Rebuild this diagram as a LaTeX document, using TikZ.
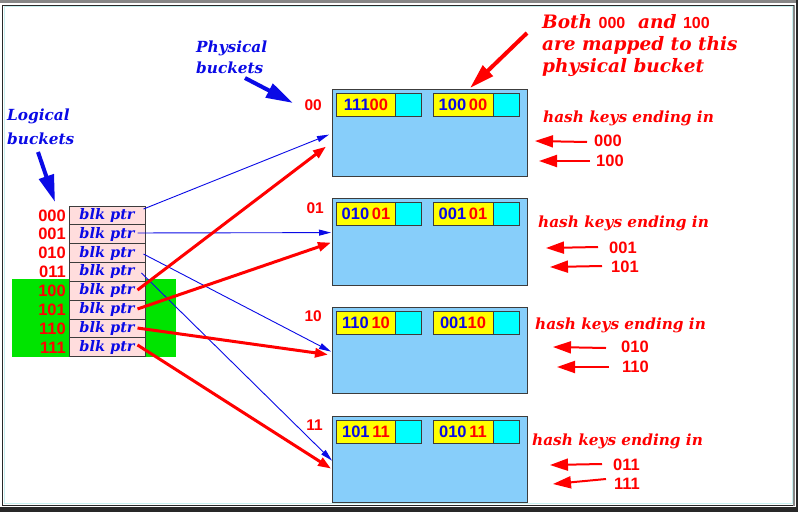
\documentclass[tikz,border=0pt]{standalone}
\usepackage{fontspec}
\setmainfont{DejaVu Serif}
\newfontfamily\serifbi{DejaVu Serif}
\newfontfamily\numf{Liberation Sans}
\usetikzlibrary{arrows.meta,calc}
\definecolor{myred}{RGB}{255,0,0}
\definecolor{myblue}{RGB}{10,10,230}
\definecolor{pinkcell}{RGB}{255,221,221}
\definecolor{boxblue}{RGB}{135,206,250}
\definecolor{recyellow}{RGB}{255,255,0}
\definecolor{reccyan}{RGB}{0,255,255}
\definecolor{mygreen}{RGB}{0,228,0}
\definecolor{edgegray}{RGB}{60,60,60}
\definecolor{framegray}{RGB}{135,135,135}
\definecolor{framedark}{RGB}{40,40,40}
\definecolor{framecyan}{RGB}{200,240,240}
\tikzset{
  lbl/.style={font=\serifbi\bfseries\itshape\fontsize{15.3}{21}\selectfont, inner sep=0pt},
  bignum/.style={font=\numf\bfseries\fontsize{16.5}{18}\selectfont, text=myred, inner sep=0pt},
  cellbox/.style={draw=edgegray, line width=1, fill=pinkcell, minimum width=76, minimum height=18.85, inner sep=0pt,
    font=\serifbi\bfseries\itshape\fontsize{14.5}{16}\selectfont, text=myblue},
  pbox/.style={draw=edgegray, line width=1.2, fill=boxblue, minimum width=195, inner sep=0pt},
  yrec/.style={draw=edgegray, line width=1, fill=recyellow, minimum width=60, minimum height=23, inner sep=0pt,
    font=\numf\bfseries\fontsize{16.5}{18}\selectfont},
  crec/.style={draw=edgegray, line width=1, fill=reccyan, minimum width=25.5, minimum height=23, inner sep=0pt},
  blueptr/.style={draw=myblue, line width=0.9, -{Triangle[length=12,width=6]}},
  redptr/.style={draw=myred, line width=3, -{Triangle[length=13,width=9]}},
  keyarrow/.style={draw=myred, line width=2, -{Triangle[length=18,width=12]}},
  bigarrow/.style={line width=4, -{Triangle[length=27,width=15]}},
}
\newcommand{\bl}[1]{\textcolor{myblue}{#1}}
\newcommand{\rd}[1]{\textcolor{myred}{#1}}
\newcommand{\upnum}[1]{{\numf\upshape\bfseries\fontsize{16}{18}\selectfont #1}}
\begin{document}
\begin{tikzpicture}[x=1pt,y=-1pt]
\useasboundingbox (0,0) rectangle (798,512);
\fill[white] (0,0) rectangle (798,512);
% frame
\fill[framegray] (0,0) rectangle (798,3);
\fill[framedark] (0,507) rectangle (798,512);
\fill[framedark] (796,0) rectangle (798,512);
\draw[framecyan, line width=1] (4,6.5) rectangle (792,503);
\draw[framedark, line width=1.3] (2.5,5) -- (2.5,505.5) -- (794,505.5);
\draw[framegray, line width=1.5] (794,5) -- (794,505.5);
\draw[framedark, line width=1] (2.5,5) -- (794,5);

% green highlight
\fill[mygreen] (12,279) rectangle (176,357);

% logical table
\foreach \i/\lab in {0/000,1/001,2/010,3/011,4/100,5/101,6/110,7/111}{
  \node[cellbox] (c\i) at (107,{206+(\i+0.5)*18.85}) {blk ptr};
  \node[bignum, anchor=east] (l\i) at (66,{206+(\i+0.5)*18.85}) {\lab};
}

% labels
\node[lbl, text=myblue, align=left, anchor=base west, font=\serifbi\bfseries\itshape\fontsize{15.3}{24}\selectfont] (logical) at (7,144) {Logical\\buckets};
\coordinate (logtip) at (55,202);
\draw[bigarrow, myblue] (38,152) -- (logtip);

\node[lbl, text=myblue, align=left, anchor=base west] (physical) at (196,73) {Physical\\buckets};
\coordinate (phystip) at (293,103);
\draw[bigarrow, myblue] (245,78) -- (phystip);

% physical buckets
\node[pbox, minimum height=87, anchor=north west] (b1) at (332,89) {};
\node[pbox, minimum height=87, anchor=north west] (b2) at (332,198) {};
\node[pbox, minimum height=86, anchor=north west] (b3) at (332,307) {};
\node[pbox, minimum height=86, anchor=north west] (b4) at (332,416) {};

\node[bignum, anchor=east, font=\numf\bfseries\fontsize{15.5}{18}\selectfont] (n1) at (322,105) {00};
\node[bignum, anchor=east, font=\numf\bfseries\fontsize{15.5}{18}\selectfont] (n2) at (324,208) {01};
\node[bignum, anchor=east, font=\numf\bfseries\fontsize{15.5}{18}\selectfont] (n3) at (322,316) {10};
\node[bignum, anchor=east, font=\numf\bfseries\fontsize{15.5}{18}\selectfont] (n4) at (323,425) {11};

% records
\foreach \k/\t/\ta/\tb in {1/93/\bl{111}\rd{00}/\bl{100}\,\rd{00},2/202/\bl{010}\,\rd{01}/\bl{001}\,\rd{01},3/311/\bl{110}\,\rd{10}/\bl{001}\rd{10},4/420/\bl{101}\,\rd{11}/\bl{010}\,\rd{11}}{
  \node[yrec] (ya\k) at (366,\t+11.5) {\ta};
  \node[crec] (ca\k) at (408.5,\t+11.5) {};
  \node[yrec] (yb\k) at (463,\t+11.5) {\tb};
  \node[crec, minimum width=26] (cb\k) at (506,\t+11.5) {};
}

% pointers
\draw[blueptr] ([xshift=-2pt,yshift=6.4pt]c0.east) -- ([xshift=-3pt,yshift=-1.5pt]b1.west);
\draw[blueptr] ([xshift=-8pt,yshift=1.3pt]c1.east) -- ([xshift=-1pt,yshift=9.5pt]b2.west);
\draw[blueptr] ([xshift=-2pt,yshift=-0.9pt]c2.east) -- ([xshift=-1pt,yshift=-1pt]b3.west);
\draw[blueptr] ([xshift=-4pt,yshift=-1pt]c3.east) -- ([xshift=0pt,yshift=-1pt]b4.west);
\draw[redptr] ([xshift=-8pt,yshift=0.8pt]c4.east) -- ([xshift=-6pt,yshift=-13.5pt]b1.west);
\draw[redptr] ([xshift=-8pt,yshift=0.7pt]c5.east) -- ([xshift=-1pt,yshift=-0.5pt]b2.west);
\draw[redptr] ([xshift=-8pt,yshift=0.5pt]c6.east) -- ([xshift=-4pt,yshift=-4pt]b3.west);
\draw[redptr] ([xshift=-8pt,yshift=2.4pt]c7.east) -- ([xshift=-1pt,yshift=-9pt]b4.west);

% annotation
\node[lbl, text=myred, align=left, anchor=base west, font=\serifbi\bfseries\itshape\fontsize{18.5}{22}\selectfont] (note) at (542,72)
  {Both \upnum{000} \ and \upnum{100}\\are mapped to this\\physical bucket};
\coordinate (notetip) at (470,88);
\draw[bigarrow, myred, -{Triangle[length=25,width=14]}] (527,33) -- (notetip);

% hash key labels
\node[lbl, text=myred, anchor=base west] (h1) at (543,122) {hash keys ending in};
\node[lbl, text=myred, anchor=base west] (h2) at (538,227) {hash keys ending in};
\node[lbl, text=myred, anchor=base west] (h3) at (535,329) {hash keys ending in};
\node[lbl, text=myred, anchor=base west] (h4) at (532,445) {hash keys ending in};

\foreach \n/\x/\y/\txt/\tip in {1a/594/141/000/535, 1b/596/161/100/539, 2a/609/248/001/546, 2b/611/267/101/550,
  3a/621/347/010/553, 3b/622/367/110/557, 4a/613/465/011/550, 4b/614/484/111/553}{
  \node[bignum, anchor=west] (k\n) at (\x,\y) {\txt};
  \coordinate (t\n) at (\tip,\y);
}
\draw[keyarrow] (587,142) -- (t1a);
\draw[keyarrow] (590,161) -- (t1b);
\draw[keyarrow] (598,247) -- (t2a);
\draw[keyarrow] (602,266) -- (t2b);
\draw[keyarrow] (606,348) -- (t3a);
\draw[keyarrow] (609,367) -- (t3b);
\draw[keyarrow] (602,464) -- (t4a);
\draw[keyarrow] (606,479) -- (t4b);
\end{tikzpicture}
\end{document}
